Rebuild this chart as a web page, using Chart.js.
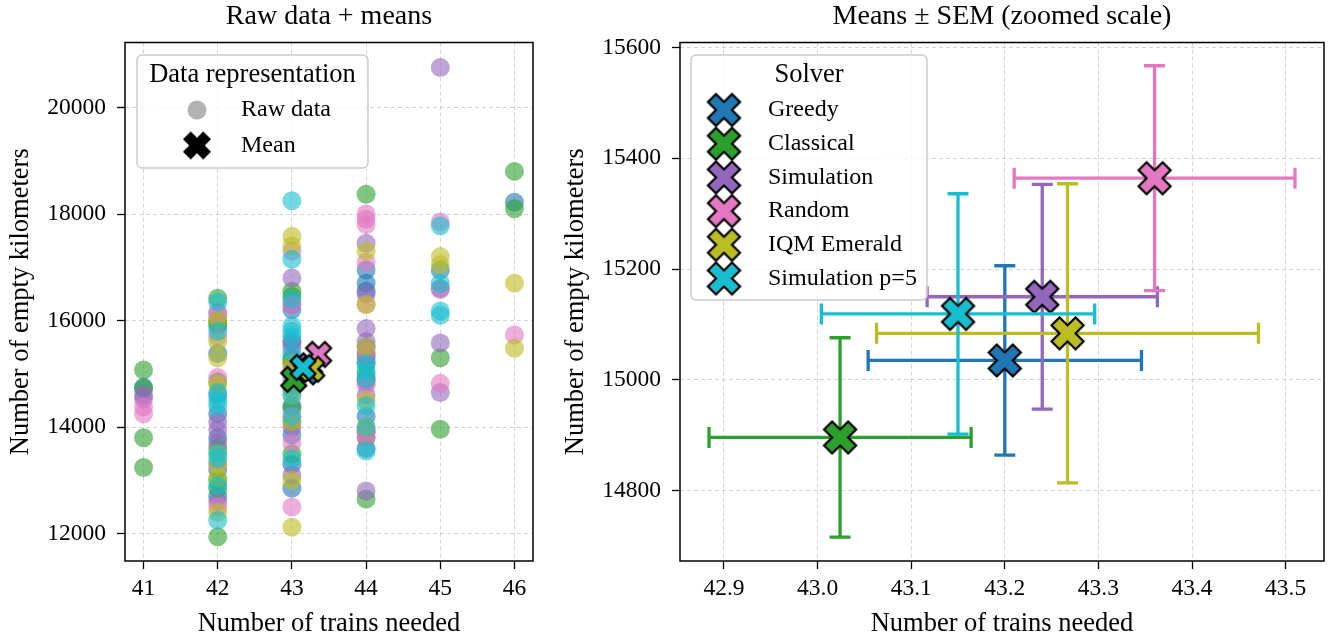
<!DOCTYPE html>
<html>
<head>
<meta charset="utf-8">
<script src="https://cdn.jsdelivr.net/npm/chart.js@4.4.0/dist/chart.umd.min.js"></script>
<style>
  body { margin: 0; background: #fff; }
  #wrap { position: relative; width: 1340px; height: 635px; }
  canvas { position: absolute; top: 0; }
</style>
</head>
<body>
<div id="wrap">
  <canvas id="left" width="560" height="635" style="left:0"></canvas>
  <canvas id="right" width="780" height="635" style="left:560px"></canvas>
</div>
<script>
// solvers and summary stats
const solvers = ['Greedy', 'Classical', 'Simulation', 'Random', 'IQM Emerald', 'Simulation p=5'];
const colors = ['#1f77b4', '#2ca02c', '#9467bd', '#e377c2', '#bcbd22', '#17becf'];
const meanTrains = [43.2, 43.024, 43.24, 43.36, 43.267, 43.15];
const meanKm = [15035, 14896, 15150, 15364, 15084, 15119];
const semTrains = [0.146, 0.14, 0.123, 0.15, 0.204, 0.146];
const semKm = [171, 180, 203, 203, 270, 217];

// raw runs [trains, empty km] per solver (estimated from the left panel)
const rawGreedy = [[41,14750],[42,15380],[42,14250],[42,13800],[42,13200],[42,15900],[42,14600],[42,12700],
  [43,15000],[43,14400],[43,13850],[43,12850],[43,16200],[43,15600],[43,14700],[43,13300],[43,15300],
  [44,16950],[44,16700],[44,16550],[44,14200],[44,15500],[44,14900],[44,13600],[44,15200],
  [45,16950],[45,16600],[46,18220]];
const rawClassical = [[41,15070],[41,14720],[41,13800],[41,13240],[42,16420],[42,16000],[42,15950],[42,14850],
  [42,13000],[42,12850],[42,11940],[42,13600],[43,16550],[43,16450],[43,15200],[43,14350],[43,13500],
  [43,14800],[43,15250],[43,14100],[44,18370],[44,12650],[44,15350],[44,13900],[44,15000],[44,13800],
  [45,15300],[45,13960],[46,18800],[46,18100]];
const rawSimulation = [[41,14600],[41,14530],[42,14100],[42,13950],[42,13700],[42,12600],[42,16150],
  [43,15600],[43,13100],[43,16300],[43,14900],[43,15500],[43,14000],[43,16800],
  [44,17450],[44,15850],[44,12800],[44,15600],[44,14600],[44,16500],[44,13950],[44,15300],[44,14850],
  [45,20750],[45,15580],[45,14650]];
const rawRandom = [[41,14380],[41,14250],[42,15700],[42,14930],[42,13300],[42,12500],[42,16100],
  [43,17300],[43,16300],[43,12500],[43,15100],[43,14200],[43,13700],
  [44,18000],[44,17900],[44,17800],[44,17100],[44,14800],[44,13800],[44,15400],[44,16300],[44,13900],
  [45,17850],[45,16580],[45,14820],[46,15730]];
const rawIQM = [[42,15600],[42,15300],[42,14800],[42,13050],[42,12400],[42,16000],[42,13500],[42,13300],
  [43,17580],[43,17400],[43,14100],[43,13000],[43,12120],[43,15200],[43,14600],
  [44,17300],[44,16300],[44,14000],[44,15500],[44,14500],[45,17050],[45,17200],[46,16700],[46,15480]];
const rawSimP5 = [[42,16350],[42,14650],[42,14500],[42,14400],[42,13500],[42,13400],[42,12250],[42,12900],[42,15800],
  [43,18250],[43,17150],[43,16400],[43,15900],[43,15400],[43,14600],[43,14200],[43,13400],[43,15700],[43,15800],
  [44,15050],[44,14900],[44,14400],[44,13550],[44,14000],[44,15200],
  [45,17780],[45,16700],[45,16180],[45,16100]];
const rawBySolver = [rawGreedy, rawClassical, rawSimulation, rawRandom, rawIQM, rawSimP5];

// tick labels
const leftXTicks = [41, 42, 43, 44, 45, 46];
const leftYTicks = [12000, 14000, 16000, 18000, 20000];
const rightXTicks = [42.9, 43.0, 43.1, 43.2, 43.3, 43.4, 43.5];
const rightYTicks = [14800, 15000, 15200, 15400, 15600];

const serif = "'Liberation Serif', 'Times New Roman', Times, serif";
Chart.defaults.font.family = serif;
Chart.defaults.color = '#000';

function rgba(hex, a) {
  const n = parseInt(hex.slice(1), 16);
  return `rgba(${n >> 16},${(n >> 8) & 255},${n & 255},${a})`;
}

// filled "X" marker like matplotlib's, as a small canvas
function xMarker(fill, size, lw) {
  const dim = Math.ceil(size * 0.95 + lw * 2 + 2);
  const c = document.createElement('canvas');
  c.width = c.height = dim;
  const g = c.getContext('2d');
  g.translate(dim / 2, dim / 2);
  g.rotate(Math.PI / 4);
  const u = size / 6;
  const pts = [[-1,-3],[1,-3],[1,-1],[3,-1],[3,1],[1,1],[1,3],[-1,3],[-1,1],[-3,1],[-3,-1],[-1,-1]];
  g.beginPath();
  pts.forEach(([px, py], k) => k ? g.lineTo(px * u, py * u) : g.moveTo(px * u, py * u));
  g.closePath();
  g.fillStyle = fill;
  g.fill();
  g.lineWidth = lw;
  g.strokeStyle = '#000';
  g.lineJoin = 'miter';
  g.stroke();
  return c;
}

const smallX = colors.map(c => xMarker(c, 26.5, 2.2));
const bigX = colors.map(c => xMarker(c, 34, 2.2));
const blackX = xMarker('#000', 26.5, 2.2);

// black frame round the plot area
const frame = {
  id: 'frame',
  afterDatasetsDraw(chart) {
    const a = chart.chartArea, ctx = chart.ctx;
    ctx.save();
    ctx.lineWidth = 1.5;
    ctx.strokeStyle = '#000';
    ctx.strokeRect(a.left, a.top, a.right - a.left, a.bottom - a.top);
    ctx.restore();
  }
};

// legend box drawn inside the axes, matplotlib style
function boxLegend(o) {
  return {
    id: 'boxLegend',
    afterDraw(chart) {
      const ctx = chart.ctx;
      ctx.save();
      ctx.beginPath();
      ctx.roundRect(o.x, o.y, o.w, o.h, 5);
      ctx.fillStyle = 'rgba(255,255,255,0.8)';
      ctx.fill();
      ctx.lineWidth = 1.5;
      ctx.strokeStyle = '#cccccc';
      ctx.stroke();
      ctx.fillStyle = '#000';
      ctx.textBaseline = 'middle';
      ctx.textAlign = 'center';
      ctx.font = `26.5px ${serif}`;
      ctx.fillText(o.title, o.x + o.w / 2, o.titleY);
      ctx.textAlign = 'left';
      ctx.font = `24px ${serif}`;
      o.items.forEach((it, k) => {
        const y = o.firstY + k * o.gap;
        if (it.image) {
          ctx.drawImage(it.image, o.markerX - it.image.width / 2, y - it.image.height / 2);
        } else {
          ctx.beginPath();
          ctx.arc(o.markerX, y, 9.5, 0, Math.PI * 2);
          ctx.fillStyle = it.fill;
          ctx.fill();
        }
        ctx.fillStyle = '#000';
        ctx.fillText(it.label, o.textX, y);
      });
      ctx.restore();
    }
  };
}

const gridColor = 'rgba(176,176,176,0.55)';

function axis(min, max, ticks, fmt, title, isX, side) {
  return {
    type: 'linear',
    position: isX ? 'bottom' : 'left',
    min, max,
    afterBuildTicks: s => { s.ticks = ticks.map(v => ({ value: v })); },
    afterFit: s => { if (isX) s.height = 74; else s.width = side.w; },
    ticks: { font: { size: 23.5 }, padding: isX ? 5.5 : 11, callback: fmt, color: '#000' },
    grid: { color: gridColor, lineWidth: 1, tickColor: '#000', tickLength: 8, tickWidth: 1.3 },
    border: { display: false, dash: [4, 3] },
    title: {
      display: true, text: title, color: '#000',
      font: { size: 26.5, lineHeight: isX ? 0.82 : 1.1 },
      padding: isX ? { top: 0, bottom: 0 } : { top: side.t, bottom: 0 }
    }
  };
}

// ---- left panel: raw data + means
const leftSets = [];
solvers.forEach((name, i) => {
  leftSets.push({
    label: name,
    data: rawBySolver[i].map(([x, y]) => ({ x, y })),
    backgroundColor: rgba(colors[i], 0.6),
    borderWidth: 0,
    pointRadius: 9.5,
    order: 100 + (5 - i)
  });
});
solvers.forEach((name, i) => {
  leftSets.push({
    label: name + ' mean',
    data: [{ x: meanTrains[i], y: meanKm[i] }],
    pointStyle: smallX[i],
    pointRadius: 12,
    order: 5 - i
  });
});

new Chart(document.getElementById('left'), {
  type: 'scatter',
  data: { datasets: leftSets },
  options: {
    responsive: false,
    animation: false,
    events: [],
    layout: { padding: { left: 0, right: 27, top: 0, bottom: 0 } },
    plugins: {
      legend: { display: false },
      tooltip: { enabled: false },
      title: {
        display: true, text: 'Raw data + means', fullSize: false, color: '#000',
        font: { size: 28, weight: 'normal' }, padding: { top: 0, bottom: 8.9 }
      }
    },
    scales: {
      x: axis(40.75, 46.25, leftXTicks, v => String(v), 'Number of trains needed', true),
      y: axis(11485, 21220, leftYTicks, v => String(v), 'Number of empty kilometers', false, { w: 125, t: 6.5 })
    }
  },
  plugins: [frame, boxLegend({
    x: 137, y: 55, w: 231, h: 113, title: 'Data representation', titleY: 75,
    markerX: 197, textX: 241, firstY: 110, gap: 35.5,
    items: [{ label: 'Raw data', fill: 'rgba(128,128,128,0.6)' }, { label: 'Mean', image: blackX }]
  })]
});

// ---- right panel: means with SEM error bars
const rightSets = [];
solvers.forEach((name, i) => {
  const base = (5 - i) * 3;
  rightSets.push({
    label: name,
    data: [{ x: meanTrains[i], y: meanKm[i] }],
    pointStyle: bigX[i],
    pointRadius: 15,
    order: base
  });
  rightSets.push({
    label: name + ' x-err',
    data: [{ x: meanTrains[i] - semTrains[i], y: meanKm[i] }, { x: meanTrains[i] + semTrains[i], y: meanKm[i] }],
    showLine: true, borderColor: colors[i], borderWidth: 3.3,
    pointStyle: 'line', pointRotation: 90, pointRadius: 10.5, pointBorderWidth: 3.3, pointBorderColor: colors[i],
    order: base + 1
  });
  rightSets.push({
    label: name + ' y-err',
    data: [{ x: meanTrains[i], y: meanKm[i] - semKm[i] }, { x: meanTrains[i], y: meanKm[i] + semKm[i] }],
    showLine: true, borderColor: colors[i], borderWidth: 3.3,
    pointStyle: 'line', pointRotation: 0, pointRadius: 10.5, pointBorderWidth: 3.3, pointBorderColor: colors[i],
    order: base + 2
  });
});

new Chart(document.getElementById('right'), {
  type: 'scatter',
  data: { datasets: rightSets },
  options: {
    responsive: false,
    animation: false,
    events: [],
    layout: { padding: { left: 0, right: 13, top: 0, bottom: 0 } },
    plugins: {
      legend: { display: false },
      tooltip: { enabled: false },
      title: {
        display: true, text: 'Means ± SEM (zoomed scale)', fullSize: false, color: '#000',
        font: { size: 28, weight: 'normal' }, padding: { top: 0, bottom: 8.9 }
      }
    },
    scales: {
      x: axis(42.853, 43.541, rightXTicks, v => v.toFixed(1), 'Number of trains needed', true),
      y: axis(14673, 15609, rightYTicks, v => String(v), 'Number of empty kilometers', false, { w: 120, t: 1 })
    }
  },
  plugins: [frame, boxLegend({
    x: 131, y: 55, w: 236, h: 245, title: 'Solver', titleY: 75,
    markerX: 164, textX: 208, firstY: 110, gap: 33.7,
    items: solvers.map((s, i) => ({ label: s, image: bigX[i] }))
  })]
});
</script>
</body>
</html>
